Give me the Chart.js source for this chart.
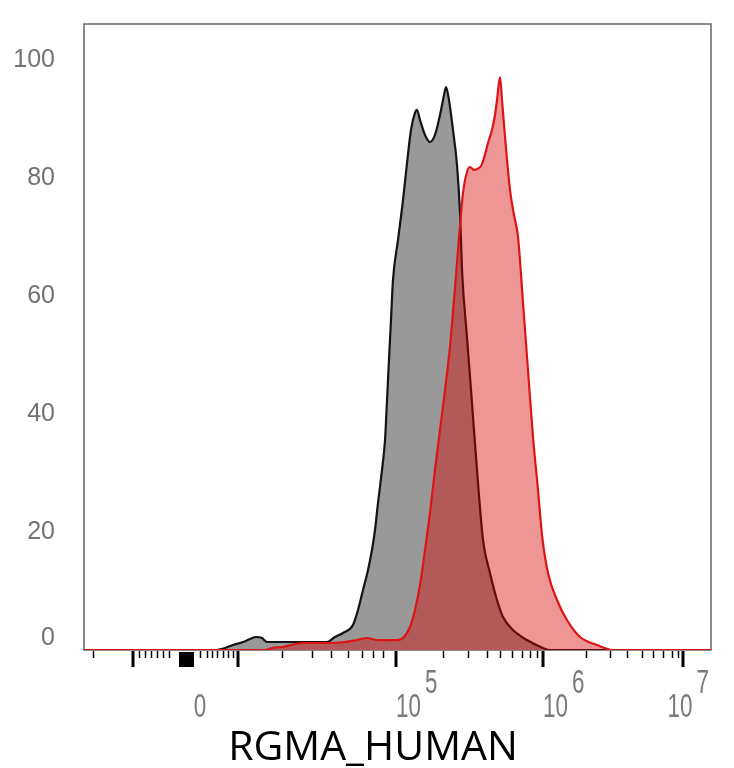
<!DOCTYPE html>
<html>
<head>
<meta charset="utf-8">
<script src="https://cdn.jsdelivr.net/npm/chart.js@4.4.1/dist/chart.umd.min.js"></script>
<style>
  html, body { margin: 0; padding: 0; background: #fff; }
  #wrap { width: 734px; height: 768px; position: relative; }
</style>
</head>
<body>
<div id="wrap"><canvas id="histo"></canvas></div>
<script>
// x values are display channels (0-1000) of the biexponential axis, y values are % of max

// Control sample (grey)
const grayX = [0, 208.9, 224.9, 237.6, 253.6, 264.8, 274.3, 283.9, 291.9, 344.5, 387.6, 400.3, 413.1,
    429.0, 437.0, 445.0, 453.0, 459.3, 464.1, 468.9, 475.3, 480.1, 483.3, 486.4, 489.6, 492.8, 500.8,
    508.8, 515.2, 521.5, 527.9, 531.1, 535.9, 543.9, 551.8, 559.8, 567.8, 574.2, 577.4, 582.1, 588.5,
    594.9, 599.7, 602.9, 610.8, 618.8, 626.8, 636.4, 647.5, 658.7, 668.3, 684.2, 706.5, 732.1, 743.2, 1000];
const grayY = [0, 0, 0.34, 0.85, 1.36, 1.86, 2.2, 2.03, 1.36, 1.36, 1.36, 2.2, 2.88,
    4.24, 6.78, 10.17, 13.56, 16.95, 20.34, 24.92, 30.51, 35.59, 42.37, 49.15, 55.93, 62.71, 69.49,
    76.27, 82.54, 88.14, 91.02, 91.53, 89.83, 87.29, 86.1, 87.29, 90.68, 94.07, 95.42, 93.22, 88.14,
    82.2, 74.07, 64.41, 53.05, 41.86, 30.51, 18.64, 13.05, 8.47, 5.59, 3.39, 1.69, 0.34, 0, 0];

// RGMA stained sample (red)
const redX = [0, 288.7, 299.8, 315.8, 349.3, 387.6, 416.3, 435.4, 451.4, 467.3, 499.2, 510.4, 519.9,
    527.9, 535.9, 543.9, 551.8, 559.8, 567.8, 575.8, 583.7, 590.1, 594.9, 599.7, 604.5, 610.8, 615.6,
    622.0, 626.8, 633.2, 638.0, 644.3, 650.7, 655.5, 658.7, 663.5, 666.7, 671.5, 679.4, 685.8, 692.2,
    700.2, 708.1, 716.1, 724.1, 730.5, 740.0, 754.4, 770.3, 791.1, 818.2, 843.7, 1000];
const redY = [0, 0, 0.34, 0.51, 1.19, 1.19, 1.36, 1.69, 2.03, 1.69, 1.69, 2.2, 3.9,
    6.78, 11.02, 16.95, 23.22, 30.51, 37.29, 44.07, 51.36, 59.32, 65.59, 72.03, 77.46, 81.02, 81.86,
    81.36, 81.53, 82.03, 83.39, 85.93, 88.14, 90.68, 93.22, 97.12, 93.22, 86.95, 77.97, 73.73, 70.0,
    58.81, 47.46, 36.1, 27.12, 19.49, 13.05, 8.47, 5.08, 2.2, 0.85, 0, 0];

// axis ticks
const yTicks = [0, 20, 40, 60, 80, 100];
const majorTicks = [78.1, 245.6, 497.6, 732.1, 955.3];          // -10^4, 10^4, 10^5, 10^6, 10^7
const minorTicks = [14.4, 87.7, 97.3, 106.9, 116.4, 126.0, 135.6,
    185.0, 196.2, 204.2, 212.1, 221.7, 229.7, 237.6,
    315.8, 363.6, 393.9, 421.1, 443.4, 460.9, 476.9,
    572.6, 612.4, 642.7, 663.5, 682.6, 698.6, 711.3, 722.5,
    800.6, 838.9, 866.0, 889.9, 907.5, 923.4, 937.8, 947.4];
const zeroBlock = [151.5, 175.4];                                 // dense ticks around 0
const xLabelAt = [162.7, 497.6, 732.1, 955.3];
const xLabelExp = ["", "5", "6", "7"];
const xTitle = "RGMA_HUMAN";

function toPoints(xs, ys) {
    return xs.map((x, i) => ({ x: x, y: ys[i] }));
}

// box, tick marks and labels drawn with the chart's own scales
const flowAxes = {
    id: "flowAxes",
    beforeDatasetsDraw(chart) {
        const { ctx, chartArea: a } = chart;
        ctx.save();
        ctx.strokeStyle = "#6e6e6e";
        ctx.lineWidth = 1.6;
        ctx.strokeRect(a.left, a.top, a.right - a.left, a.bottom - a.top);
        ctx.restore();
    },
    afterDraw(chart) {
        const { ctx, chartArea: a } = chart;
        const xs = chart.scales.x;
        const ys = chart.scales.y;
        ctx.save();

        // x tick marks
        ctx.strokeStyle = "#000";
        ctx.lineWidth = 1.5;
        minorTicks.forEach(v => {
            const px = Math.round(xs.getPixelForValue(v)) + 0.5;
            ctx.beginPath();
            ctx.moveTo(px, a.bottom + 1);
            ctx.lineTo(px, a.bottom + 8);
            ctx.stroke();
        });
        ctx.lineWidth = 3;
        majorTicks.forEach(v => {
            const px = Math.round(xs.getPixelForValue(v));
            ctx.beginPath();
            ctx.moveTo(px, a.bottom + 1);
            ctx.lineTo(px, a.bottom + 17);
            ctx.stroke();
        });
        const b0 = xs.getPixelForValue(zeroBlock[0]);
        const b1 = xs.getPixelForValue(zeroBlock[1]);
        ctx.fillStyle = "#000";
        ctx.fillRect(b0, a.bottom + 2, b1 - b0, 15);

        // y labels
        ctx.fillStyle = "#737373";
        ctx.font = '25px "Liberation Sans", Arial, sans-serif';
        ctx.textAlign = "right";
        ctx.textBaseline = "middle";
        yTicks.forEach(v => {
            let py = ys.getPixelForValue(v);
            if (v === 0) py -= 12;
            ctx.fillText(String(v), a.left - 29, py);
        });

        // x labels (condensed, with superscript exponents)
        ctx.fillStyle = "#7a7a7a";
        ctx.font = '33px "Liberation Sans", Arial, sans-serif';
        ctx.textBaseline = "middle";
        const sx = 0.68;
        xLabelAt.forEach((v, i) => {
            const px = xs.getPixelForValue(v);
            const exp = xLabelExp[i];
            ctx.save();
            if (!exp) {
                ctx.translate(px + 14, 708);
                ctx.scale(sx, 1);
                ctx.textAlign = "center";
                ctx.fillText("0", 0, 0);
            } else {
                const wBase = ctx.measureText("10").width * sx;
                const wExp = ctx.measureText(exp).width * sx;
                let left = px;
                if (left + wBase + 4 + wExp > a.right - 2) left = a.right - 2 - wBase - 4 - wExp;
                ctx.translate(left, 708);
                ctx.scale(sx, 1);
                ctx.textAlign = "left";
                ctx.fillText("10", 0, 0);
                ctx.fillText(exp, (wBase + 4) / sx, -24);
            }
            ctx.restore();
        });

        // axis title
        ctx.fillStyle = "#000";
        ctx.font = '41px "Open Sans", "Noto Sans", sans-serif';
        ctx.textAlign = "center";
        ctx.textBaseline = "alphabetic";
        ctx.fillText(xTitle, 373, 760);
        ctx.restore();
    }
};

new Chart(document.getElementById("histo").getContext("2d"), {
    type: "line",
    data: {
        datasets: [
            {
                label: "RGMA",
                data: toPoints(redX, redY),
                order: 0,
                borderColor: "rgb(222, 20, 20)",
                backgroundColor: "rgba(214, 0, 0, 0.41)",
                borderWidth: 2.2,
                fill: "origin",
                pointRadius: 0,
                cubicInterpolationMode: "monotone"
            },
            {
                label: "Control",
                data: toPoints(grayX, grayY),
                order: 1,
                borderColor: "#141414",
                backgroundColor: "rgb(153, 153, 153)",
                borderWidth: 2.2,
                fill: "origin",
                pointRadius: 0,
                cubicInterpolationMode: "monotone"
            }
        ]
    },
    options: {
        responsive: true,
        maintainAspectRatio: false,
        animation: false,
        layout: { padding: { left: 84, top: 24, right: 23, bottom: 118 } },
        plugins: {
            legend: { display: false },
            tooltip: { enabled: false }
        },
        scales: {
            x: { type: "linear", min: 0, max: 1000, display: false },
            y: { type: "linear", min: 0, max: 106.1, display: false }
        }
    },
    plugins: [flowAxes]
});
</script>
</body>
</html>
